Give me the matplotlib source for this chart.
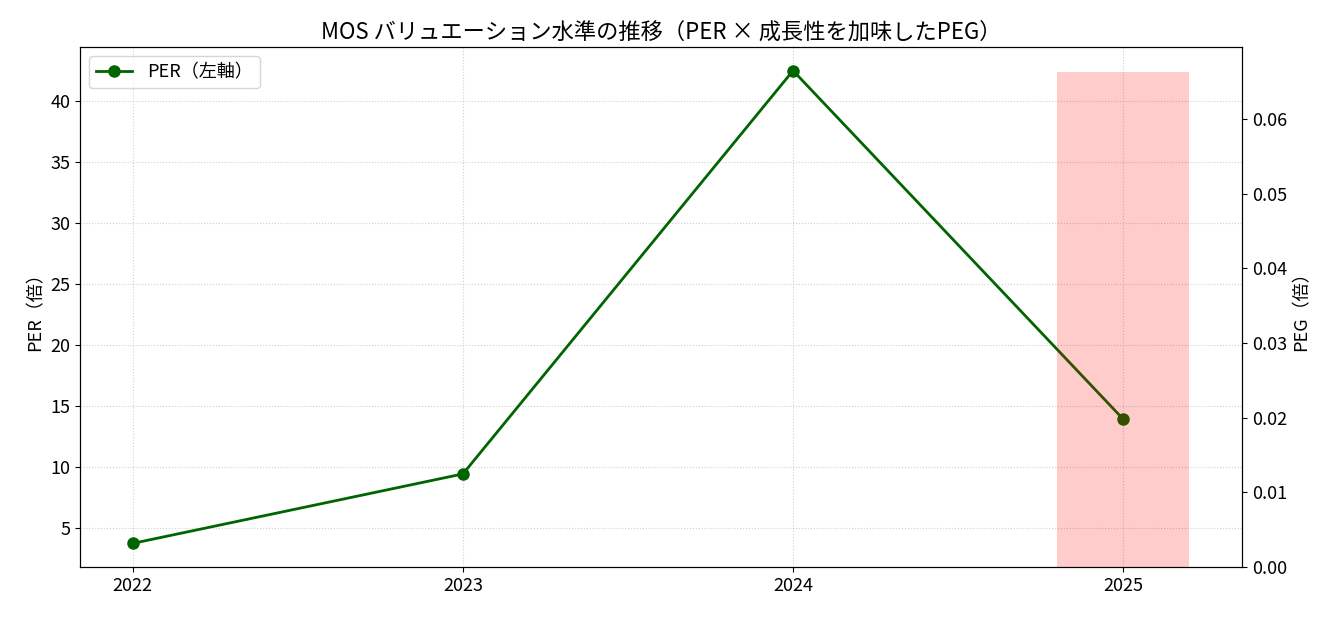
import matplotlib
matplotlib.use("Agg")
import matplotlib.pyplot as plt

plt.rcParams['font.family'] = ['Noto Sans CJK JP', 'DejaVu Sans']

years = [2022, 2023, 2024, 2025]
per = [3.7, 9.4, 42.5, 13.9]
peg_years = [2025]
peg = [0.0663]


def main():
    fig = plt.figure(figsize=(13.41, 6.17), dpi=100)
    ax1 = fig.add_axes([80 / 1341, 1 - 567 / 617, (1242 - 80) / 1341, (567 - 47) / 617])

    ax1.plot(years, per, marker='o', color='darkgreen', linewidth=2,
             markersize=8, label='PER（左軸）')
    ax1.set_ylabel('PER（倍）', fontsize=13)
    ax1.set_xticks(years)
    ax1.tick_params(labelsize=13)
    ax1.grid(True, linestyle=':', alpha=0.6)

    ax2 = ax1.twinx()
    ax2.bar(peg_years, peg, width=0.4, color='red', alpha=0.2)
    ax2.set_ylabel('PEG（倍）', fontsize=13)
    ax2.tick_params(labelsize=13)

    ax1.set_title('MOS バリュエーション水準の推移（PER × 成長性を加味したPEG）', fontsize=16)
    ax1.legend(loc='upper left', fontsize=13)

    fig.savefig('out.png')


if __name__ == '__main__':
    main()
